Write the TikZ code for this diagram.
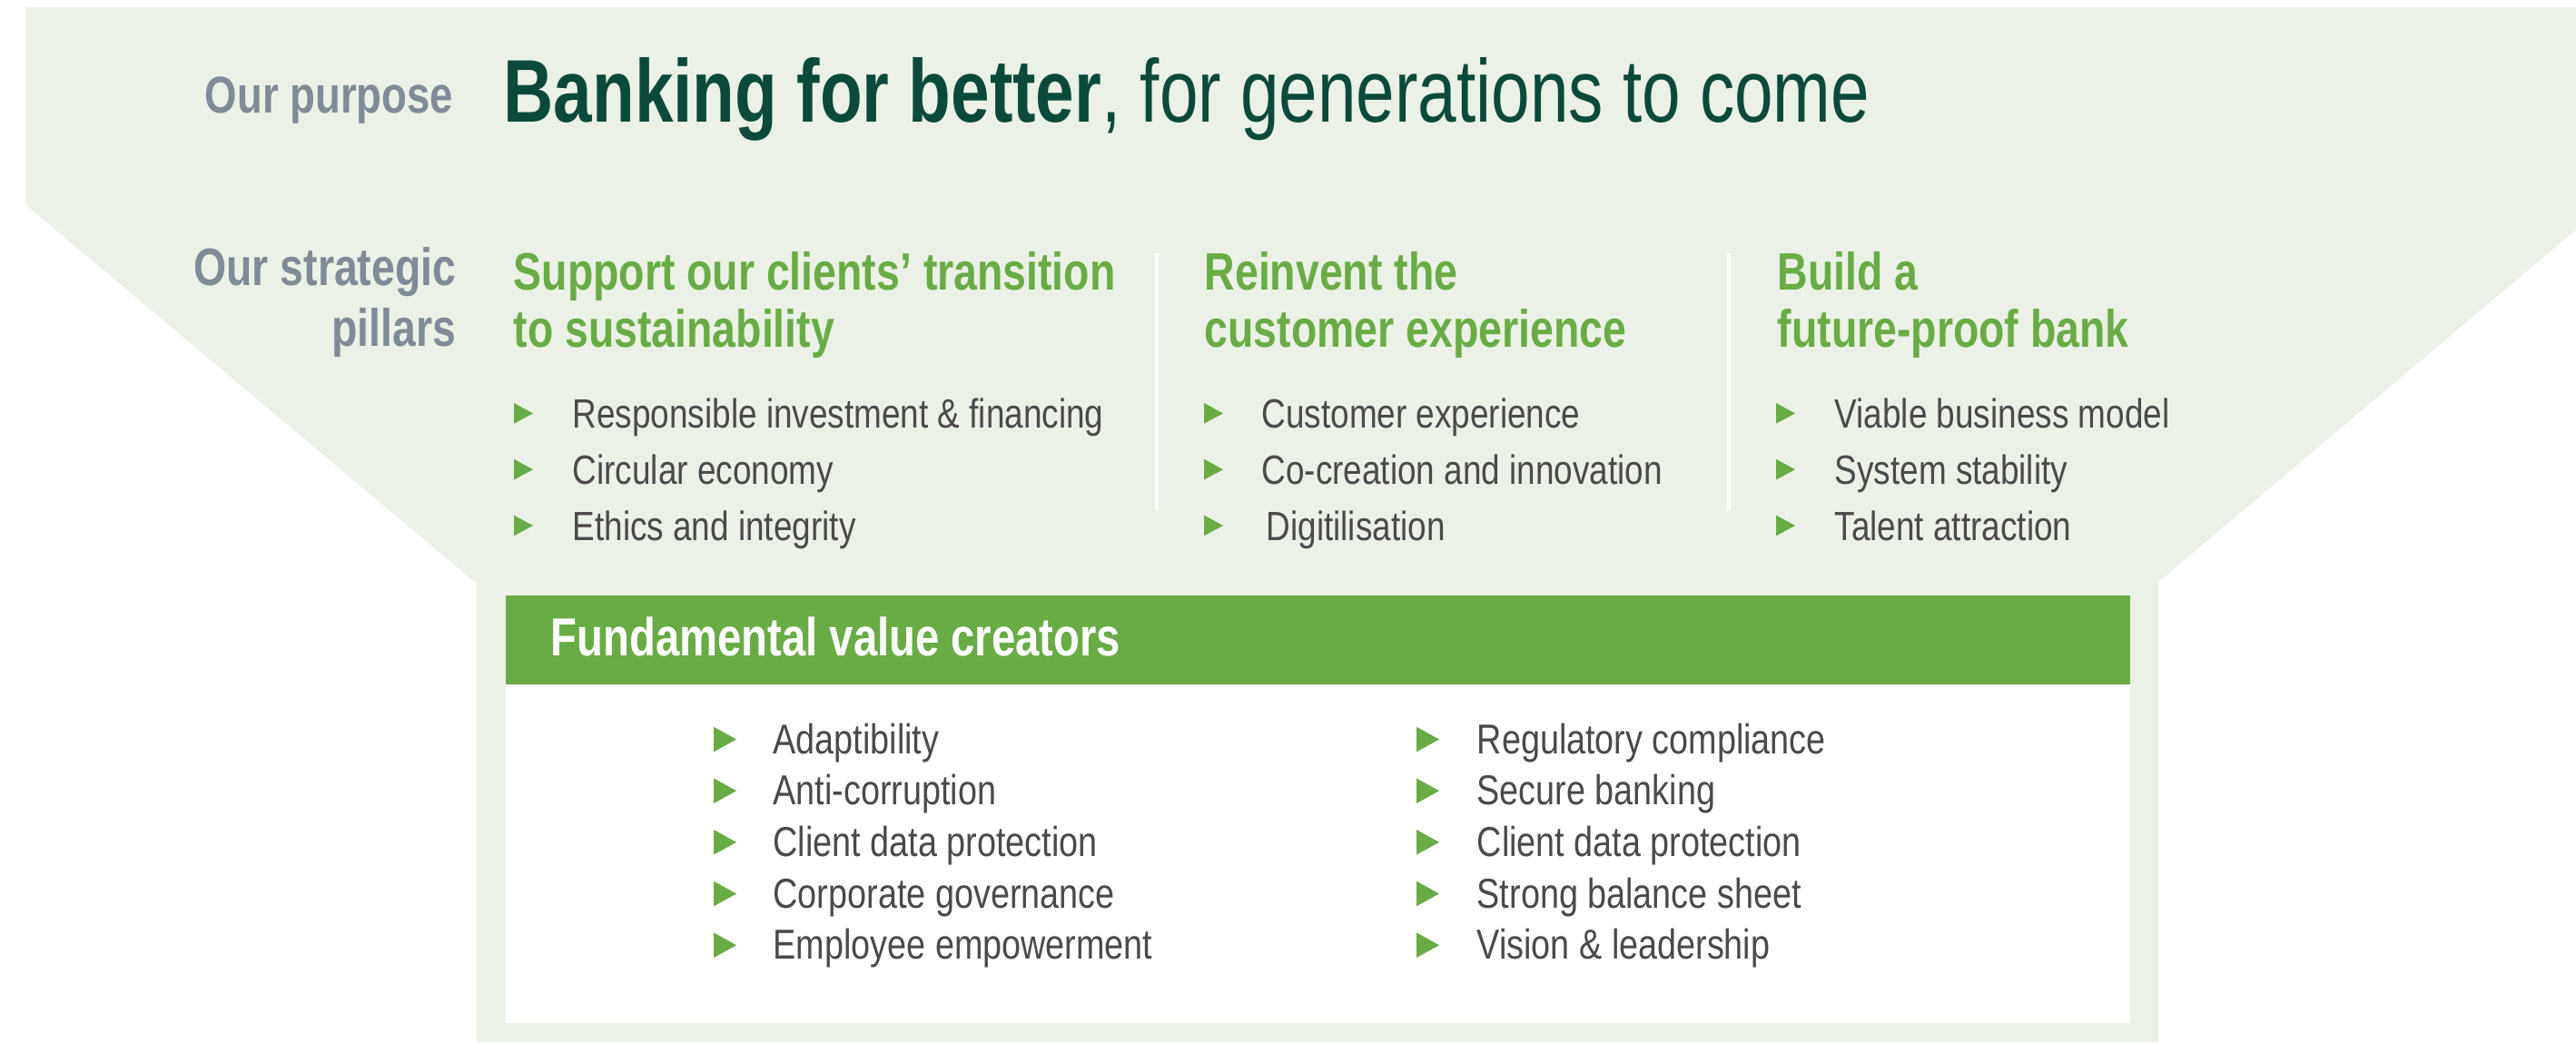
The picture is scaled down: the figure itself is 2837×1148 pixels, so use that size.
\documentclass[tikz,border=0pt]{standalone}
\usepackage{fontspec}
\setmainfont{Liberation Sans}[FakeStretch=0.82]
\newfontfamily\hfont{Liberation Sans}[FakeStretch=0.8]
\newfontfamily\tfont{Liberation Sans}[FakeStretch=0.78]
\definecolor{bgc}{HTML}{EBF1E6}
\definecolor{vgreen}{HTML}{69AC45}
\definecolor{dgreen}{HTML}{0B4A3B}
\definecolor{lgrey}{HTML}{7F8B97}
\definecolor{tgrey}{HTML}{4A4A4A}
\tikzset{
  lbl/.style={inner sep=0pt, anchor=base east, text=lgrey, font=\hfont\bfseries\fontsize{16.2pt}{19pt}\selectfont},
  head/.style={inner sep=0pt, anchor=base west, text=vgreen, font=\hfont\bfseries\fontsize{16.5pt}{19pt}\selectfont},
  btxt/.style={inner sep=0pt, anchor=base west, text=tgrey, font=\fontsize{12.8pt}{15pt}\selectfont},
  ftxt/.style={inner sep=0pt, anchor=base west, text=tgrey, font=\fontsize{13.1pt}{15pt}\selectfont},
  tri/.pic={\fill[vgreen] (0,-27.7) -- (21,-16.3) -- (0,-5) -- cycle;},
  ftri/.pic={\fill[vgreen] (0,-29.3) -- (25,-15.5) -- (0,-1.7) -- cycle;},
  sep/.style={draw=white, line width=1.14pt}
}
\begin{document}
\begin{tikzpicture}[x=0.01cm,y=-0.01cm]
\useasboundingbox (0,0) rectangle (2837,1148);
% background funnel
\fill[bgc] (29,8) -- (2837,8) -- (2837,253) -- (2377,641) -- (2377,1148) -- (525,1148) -- (525,643) -- (29,226) -- cycle;
% value creators box
\fill[white] (557,754) rectangle (2346,1127);
\fill[vgreen] (557,656) rectangle (2346,754);
% separators
\coordinate (s1a) at (1274,279); \coordinate (s1b) at (1274,562);
\coordinate (s2a) at (1904,279); \coordinate (s2b) at (1904,562);
\draw[sep] (s1a) -- (s1b);
\draw[sep] (s2a) -- (s2b);
% purpose
\node[lbl, font=\hfont\bfseries\fontsize{16.2pt}{19pt}\selectfont] (purp) at (500,124) {Our purpose};
\node[inner sep=0pt, anchor=base west, text=dgreen, font=\tfont\fontsize{27.88pt}{32pt}\selectfont] (title) at (554,134) {\textbf{Banking for better}, for generations to come};
% pillars label
\node[lbl, font=\hfont\bfseries\fontsize{16.5pt}{19pt}\selectfont] (pil1) at (503,314) {Our strategic};
\node[lbl, font=\hfont\bfseries\fontsize{16.5pt}{19pt}\selectfont] (pil2) at (503,381) {pillars};
% headings
\node[head] (h1a) at (565,319) {Support our clients’ transition};
\node[head] (h1b) at (565,382) {to sustainability};
\node[head] (h2a) at (1326,319) {Reinvent the};
\node[head] (h2b) at (1326,382) {customer experience};
\node[head] (h3a) at (1957,319) {Build a};
\node[head] (h3b) at (1957,382) {future-proof bank};
% column 1 bullets
\pic at (566,471.7) {tri}; \node[btxt] (c1a) at (630,471.7) {Responsible investment \& financing};
\pic at (566,533.5) {tri}; \node[btxt] (c1b) at (630,533.5) {Circular economy};
\pic at (566,595.3) {tri}; \node[btxt] (c1c) at (630,595.3) {Ethics and integrity};
% column 2 bullets
\pic at (1326,471.7) {tri}; \node[btxt] (c2a) at (1389,471.7) {Customer experience};
\pic at (1326,533.5) {tri}; \node[btxt] (c2b) at (1389,533.5) {Co-creation and innovation};
\pic at (1326,595.3) {tri}; \node[btxt] (c2c) at (1394,595.3) {Digitilisation};
% column 3 bullets
\pic at (1956,471.7) {tri}; \node[btxt] (c3a) at (2020,471.7) {Viable business model};
\pic at (1956,533.5) {tri}; \node[btxt] (c3b) at (2020,533.5) {System stability};
\pic at (1956,595.3) {tri}; \node[btxt] (c3c) at (2020,595.3) {Talent attraction};
% fundamental value creators
\node[inner sep=0pt, anchor=base west, text=white, font=\hfont\bfseries\fontsize{16.79pt}{19pt}\selectfont] (fvc) at (606,722.7) {Fundamental value creators};
\pic at (786,830) {ftri}; \node[ftxt] (fa) at (851,830) {Adaptibility};
\pic at (786,886.7) {ftri}; \node[ftxt] (fb) at (851,886.7) {Anti-corruption};
\pic at (786,943.3) {ftri}; \node[ftxt] (fc) at (851,943.3) {Client data protection};
\pic at (786,1000) {ftri}; \node[ftxt] (fd) at (851,1000) {Corporate governance};
\pic at (786,1056.7) {ftri}; \node[ftxt] (fe) at (851,1056.7) {Employee empowerment};
\pic at (1560,830) {ftri}; \node[ftxt] (ga) at (1626,830) {Regulatory compliance};
\pic at (1560,886.7) {ftri}; \node[ftxt] (gb) at (1626,886.7) {Secure banking};
\pic at (1560,943.3) {ftri}; \node[ftxt] (gc) at (1626,943.3) {Client data protection};
\pic at (1560,1000) {ftri}; \node[ftxt] (gd) at (1626,1000) {Strong balance sheet};
\pic at (1560,1056.7) {ftri}; \node[ftxt] (ge) at (1626,1056.7) {Vision \& leadership};
\end{tikzpicture}
\end{document}
